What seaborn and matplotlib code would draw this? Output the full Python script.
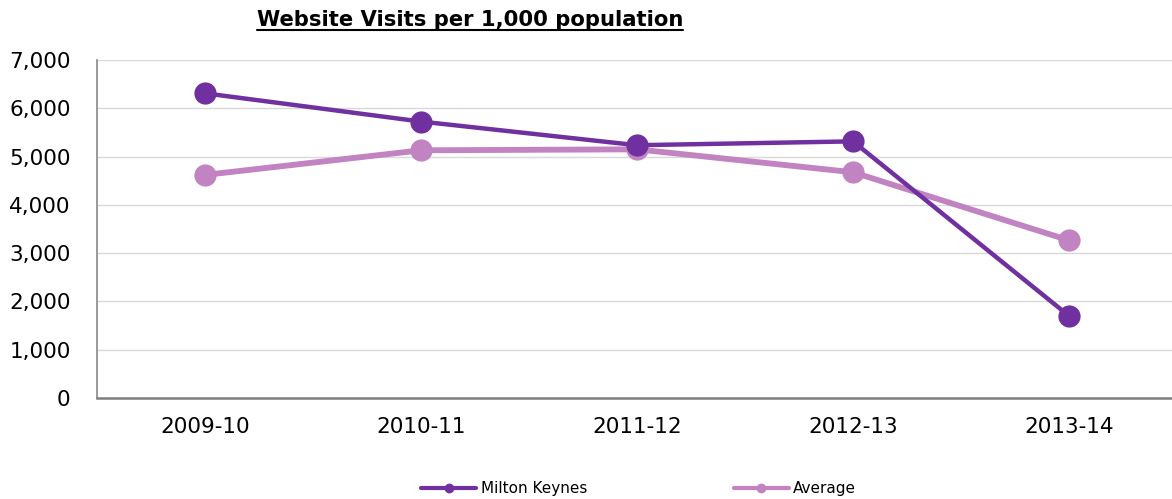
import pandas as pd
import seaborn as sns
import matplotlib.pyplot as plt
from matplotlib.lines import Line2D

years = ['2009-10', '2010-11', '2011-12', '2012-13', '2013-14']
milton_keynes = [6310, 5725, 5235, 5315, 1700]
average = [4620, 5130, 5150, 4675, 3265]

df = pd.DataFrame({
    'Year': years * 2,
    'Visits': milton_keynes + average,
    'Area': ['Milton Keynes'] * 5 + ['Average'] * 5,
})

sns.set_style('white')
plt.rcParams['font.family'] = ['DejaVu Sans']
plt.rcParams['text.color'] = 'black'

fig = plt.figure(figsize=(11.72, 4.99), dpi=100)
ax = fig.add_axes([97 / 1172, 1 - 398 / 499, 1080 / 1172, 338 / 499])

colors = {'Milton Keynes': '#7030A0', 'Average': '#C183C1'}
sizes = {'Milton Keynes': 3.2, 'Average': 4.2}
# draw average first so Milton Keynes sits on top
for name in ['Average', 'Milton Keynes']:
    sub = df[df['Area'] == name]
    sns.lineplot(data=sub, x='Year', y='Visits', ax=ax, color=colors[name],
                 linewidth=sizes[name], marker='o', markersize=16,
                 markeredgewidth=0, label=name, sort=False)

ax.set_xlim(-0.5, 4.5)
ax.set_ylim(0, 7000)
ax.set_yticks(range(0, 7001, 1000))
ax.set_yticklabels(['{:,}'.format(v) for v in range(0, 7001, 1000)])
ax.yaxis.grid(True, color='#D9D9D9', linewidth=1)
ax.set_axisbelow(True)
ax.set_xlabel('')
ax.set_ylabel('')
ax.tick_params(axis='both', labelsize=15.5, length=0, colors='#000000')
ax.tick_params(axis='x', pad=14)
ax.tick_params(axis='y', pad=19)
for s in ['top', 'right']:
    ax.spines[s].set_visible(False)
ax.spines['left'].set_color('#898989')
ax.spines['bottom'].set_color('#808080')
ax.spines['left'].set_linewidth(1.2)
ax.spines['bottom'].set_linewidth(1.8)
ax.legend_.remove()

handles = [Line2D([], [], color=colors[n], linewidth=3, marker='o', markersize=6)
           for n in ['Milton Keynes', 'Average']]
fig.legend(handles, ['Milton Keynes', 'Average'], loc='center', ncol=2,
           bbox_to_anchor=(0.545, 1 - 489 / 499), frameon=False, fontsize=11,
           handlelength=3.6, columnspacing=9.6, handletextpad=0.3,
           labelcolor='black')

t = fig.text(470 / 1172, 1 - 20 / 499, 'Website Visits per 1,000 population',
             ha='center', va='center', fontsize=15.2, fontweight='bold',
             color='black')
fig.canvas.draw()
bb = t.get_window_extent().transformed(fig.transFigure.inverted())
fig.add_artist(Line2D([bb.x0, bb.x1], [bb.y0, bb.y0],
                      color='black', linewidth=1.5, transform=fig.transFigure))

fig.savefig('out.png', dpi=100)
